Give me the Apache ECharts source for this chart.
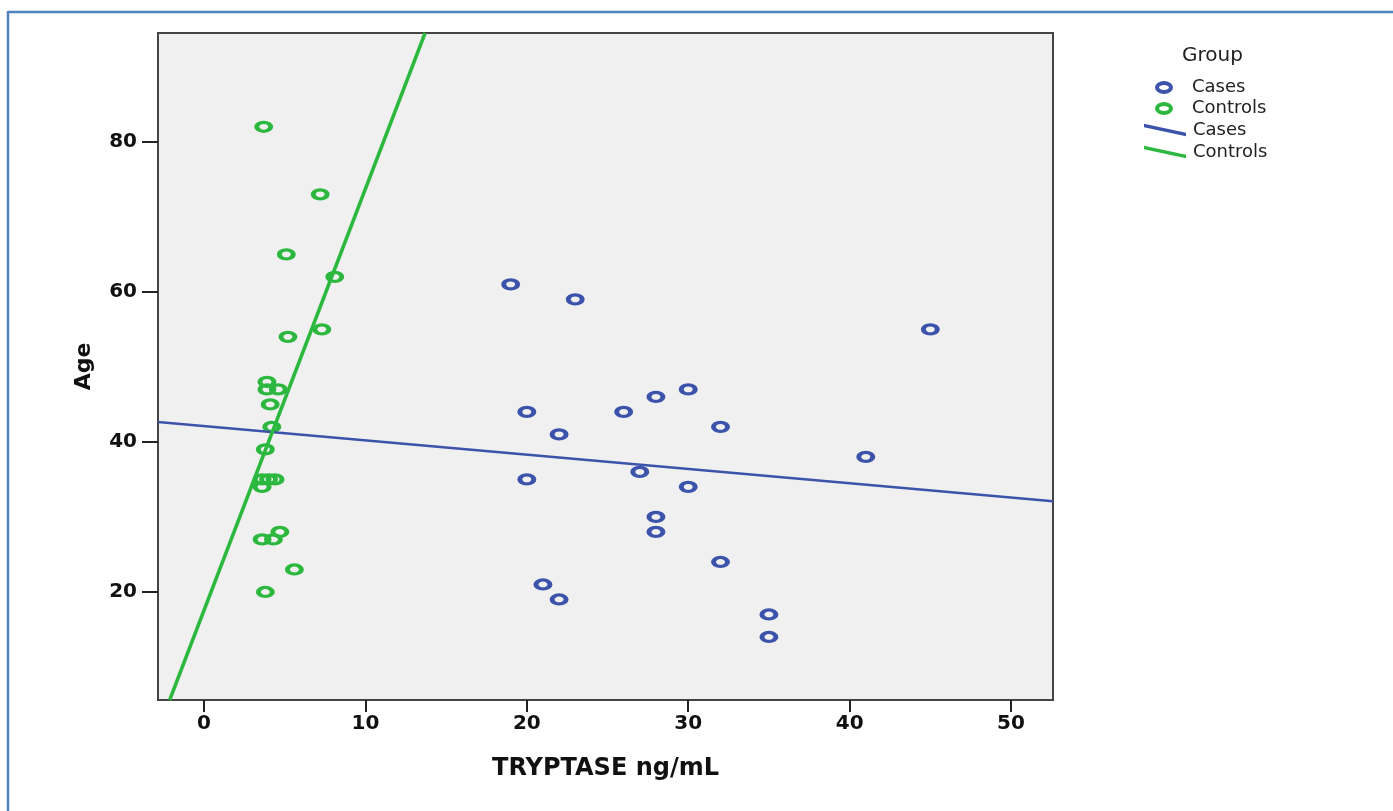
<!DOCTYPE html>
<html>
<head>
<meta charset="utf-8">
<script src="https://cdn.jsdelivr.net/npm/echarts@6/dist/echarts.min.js"></script>
<style>
  html, body { margin: 0; padding: 0; background: #ffffff; }
  #chart { width: 1393px; height: 811px; }
</style>
</head>
<body>
<div id="chart"></div>
<script>
// ---- data ----
const xTicks = [0, 10, 20, 30, 40, 50];
const yTicks = [20, 40, 60, 80];

const casesTryptase = [19, 23, 45, 30, 28, 20, 26, 32, 22, 41, 27, 20, 30, 28, 28, 32, 21, 22, 35, 35];
const casesAge      = [61, 59, 55, 47, 46, 44, 44, 42, 41, 38, 36, 35, 34, 30, 28, 24, 21, 19, 17, 14];

const controlsTryptase = [3.7, 7.2, 5.1, 8.1, 5.2, 7.3, 3.9, 3.9, 4.6, 4.1, 4.2, 3.8, 3.6, 4.0, 4.4, 3.6, 4.7, 3.6, 4.3, 5.6, 3.8];
const controlsAge      = [82, 73, 65, 62, 54, 55, 48, 47, 47, 45, 42, 39, 35, 35, 35, 34, 28, 27, 27, 23, 20];

const xMin = -2.85, xMax = 52.6;
const yMin = 5.6,  yMax = 94.5;

const BLUE = '#3b53aa';
const GREEN = '#2cb83f';
const FONT = '"DejaVu Sans", "Liberation Sans", sans-serif';

// ---- helpers ----
function pairs(xs, ys) { return xs.map((x, i) => [x, ys[i]]); }

function olsFit(xs, ys) {
  const n = xs.length;
  const mx = xs.reduce((a, b) => a + b, 0) / n;
  const my = ys.reduce((a, b) => a + b, 0) / n;
  let sxy = 0, sxx = 0;
  for (let i = 0; i < n; i++) {
    sxy += (xs[i] - mx) * (ys[i] - my);
    sxx += (xs[i] - mx) * (xs[i] - mx);
  }
  const slope = sxy / sxx;
  return { slope, intercept: my - slope * mx };
}

// segment of y = a + b x inside the plotting box
function fitSegment(fit) {
  const f = x => fit.intercept + fit.slope * x;
  const inv = y => (y - fit.intercept) / fit.slope;
  const ends = [xMin, xMax].map(x => {
    const y = f(x);
    if (y > yMax) { return [inv(yMax), yMax]; }
    if (y < yMin) { return [inv(yMin), yMin]; }
    return [x, y];
  });
  return ends.sort((a, b) => a[0] - b[0]);
}

const casesFit = fitSegment(olsFit(casesTryptase, casesAge));
const controlsFit = fitSegment(olsFit(controlsTryptase, controlsAge));

const RING = 'path://M0,4.5 A7,4.5 0 1,1 14,4.5 A7,4.5 0 1,1 0,4.5 Z';
const SLASH = 'path://M0,0 L42,9 L42,12.5 L0,3.5 Z';

const chart = echarts.init(document.getElementById('chart'), null, { renderer: 'canvas' });

const option = {
  animation: false,
  backgroundColor: '#ffffff',
  textStyle: { fontFamily: FONT },
  title: {
    text: 'Group',
    left: 1182,
    top: 46,
    padding: 0,
    textStyle: { fontFamily: FONT, fontSize: 20, fontWeight: 'normal', color: '#222' }
  },
  graphic: [
    { type: 'line', silent: true, shape: { x1: 8, y1: 12, x2: 1393, y2: 12 },
      style: { stroke: '#4f81bd', lineWidth: 2.5 } },
    { type: 'line', silent: true, shape: { x1: 8, y1: 11, x2: 8, y2: 811 },
      style: { stroke: '#4f81bd', lineWidth: 2.5 } }
  ],
  legend: [
    {
      orient: 'vertical',
      left: 1155,
      top: 77,
      padding: 0,
      itemGap: 0,
      itemWidth: 14,
      itemHeight: 9,
      selectedMode: false,
      formatter: '{t|{name}}',
      textStyle: {
        fontFamily: FONT, fontSize: 18, color: '#222', lineHeight: 21,
        rich: { t: { padding: [0, 0, 0, 16], fontFamily: FONT, fontSize: 18, color: '#222', lineHeight: 21 } }
      },
      data: [
        { name: 'Cases', icon: RING, itemStyle: { color: 'rgba(0,0,0,0)', borderColor: BLUE, borderWidth: 4, opacity: 1 } },
        { name: 'Controls', icon: RING, itemStyle: { color: 'rgba(0,0,0,0)', borderColor: GREEN, borderWidth: 4, opacity: 1 } }
      ]
    },
    {
      orient: 'vertical',
      left: 1144,
      top: 119,
      padding: 0,
      itemGap: 0,
      itemWidth: 42,
      itemHeight: 12.5,
      selectedMode: false,
      formatter: '{t|{name}}',
      textStyle: {
        fontFamily: FONT, fontSize: 18, color: '#222', lineHeight: 22,
        rich: { t: { padding: [0, 0, 0, 2], fontFamily: FONT, fontSize: 18, color: '#222', lineHeight: 22 } }
      },
      data: [
        { name: 'Cases', icon: SLASH, itemStyle: { color: BLUE, borderWidth: 0, opacity: 1 } },
        { name: 'Controls', icon: SLASH, itemStyle: { color: GREEN, borderWidth: 0, opacity: 1 } }
      ]
    }
  ],
  grid: {
    left: 158,
    top: 33,
    width: 895,
    height: 667,
    show: true,
    backgroundColor: '#f0f0f0',
    borderColor: '#444444',
    borderWidth: 2
  },
  xAxis: {
    type: 'value',
    min: xMin,
    max: xMax,
    name: 'TRYPTASE ng/mL',
    nameLocation: 'middle',
    nameGap: 57,
    nameTextStyle: { fontFamily: FONT, fontSize: 24, fontWeight: 'bold', color: '#111' },
    axisLine: { show: true, onZero: false, lineStyle: { color: '#444', width: 2 } },
    axisTick: { show: true, length: 12, customValues: xTicks, lineStyle: { color: '#222', width: 2 } },
    axisLabel: { customValues: xTicks, margin: 14, fontFamily: FONT, fontSize: 20, fontWeight: 'bold', color: '#111' },
    splitLine: { show: false }
  },
  yAxis: {
    type: 'value',
    min: yMin,
    max: yMax,
    name: 'Age',
    nameLocation: 'middle',
    nameGap: 63,
    nameTextStyle: { fontFamily: FONT, fontSize: 22, fontWeight: 'bold', color: '#111' },
    axisLine: { show: true, onZero: false, lineStyle: { color: '#444', width: 2 } },
    axisTick: { show: true, length: 16, customValues: yTicks, lineStyle: { color: '#222', width: 2 } },
    axisLabel: { customValues: yTicks, margin: 21, fontFamily: FONT, fontSize: 20, fontWeight: 'bold', color: '#111' },
    splitLine: { show: false }
  },
  series: [
    {
      name: 'Cases',
      type: 'scatter',
      silent: true,
      symbol: RING,
      symbolSize: [14, 9],
      itemStyle: { color: 'rgba(0,0,0,0)', borderColor: BLUE, borderWidth: 4, opacity: 1 },
      data: pairs(casesTryptase, casesAge),
      z: 2
    },
    {
      name: 'Controls',
      type: 'scatter',
      silent: true,
      symbol: RING,
      symbolSize: [14, 9],
      itemStyle: { color: 'rgba(0,0,0,0)', borderColor: GREEN, borderWidth: 4, opacity: 1 },
      data: pairs(controlsTryptase, controlsAge),
      z: 2
    },
    {
      name: 'Cases',
      type: 'line',
      silent: true,
      showSymbol: false,
      symbol: 'none',
      lineStyle: { color: BLUE, width: 2.5 },
      itemStyle: { color: BLUE },
      data: casesFit,
      z: 3
    },
    {
      name: 'Controls',
      type: 'line',
      silent: true,
      showSymbol: false,
      symbol: 'none',
      lineStyle: { color: GREEN, width: 3.5 },
      itemStyle: { color: GREEN },
      data: controlsFit,
      z: 4
    }
  ]
};

chart.setOption(option);
</script>
</body>
</html>
